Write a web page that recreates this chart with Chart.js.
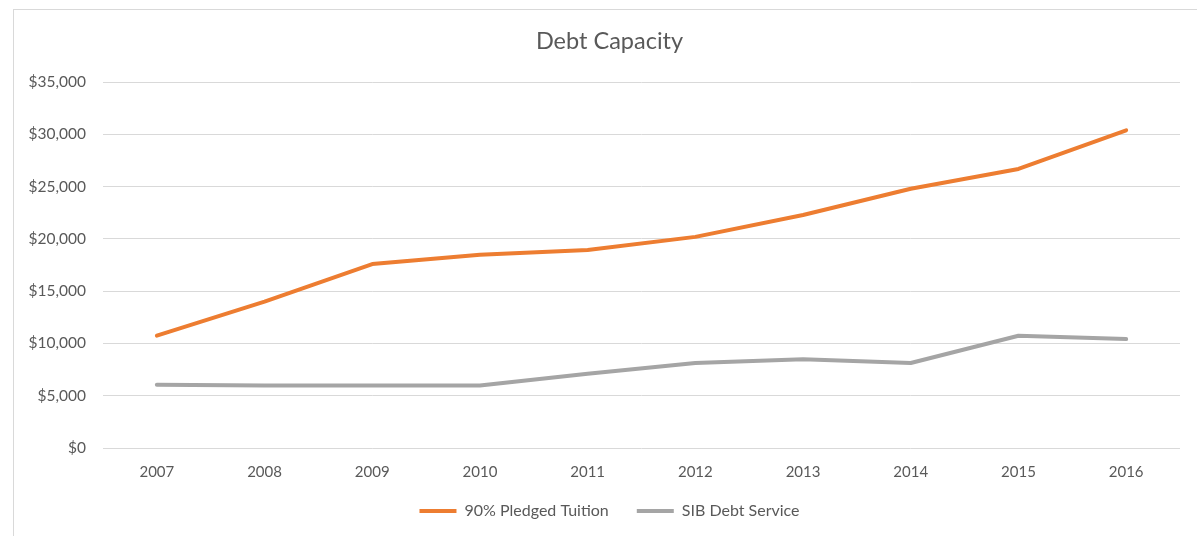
<!DOCTYPE html>
<html>
<head>
<meta charset="utf-8">
<script src="https://cdn.jsdelivr.net/npm/chart.js@4.4.1/dist/chart.umd.min.js"></script>
<style>
  html, body { margin: 0; padding: 0; background: #fff; }
  #wrap { position: relative; width: 1197px; height: 536px; overflow: hidden; }
  #frame { position: absolute; left: 13px; top: 9px; width: 1200px; height: 540px; border: 1px solid #D9D9D9; box-sizing: border-box; pointer-events: none; }
  canvas { position: absolute; left: 0; top: 0; }
</style>
</head>
<body>
<div id="wrap">
  <canvas id="c" width="1197" height="536"></canvas>
  <div id="frame"></div>
</div>
<script>
const categories = ['2007','2008','2009','2010','2011','2012','2013','2014','2015','2016'];
const pledgedTuition = [10750, 14000, 17600, 18500, 18950, 20200, 22300, 24800, 26700, 30400];
const sibDebtService = [6050, 5980, 5980, 5980, 7100, 8130, 8500, 8130, 10740, 10420];
const seriesNames = ['90% Pledged Tuition', 'SIB Debt Service'];
const yTicks = [0, 5000, 10000, 15000, 20000, 25000, 30000, 35000];

const textColor = '#595959';
const fontFamily = 'Lato, "Open Sans", sans-serif';

// Excel centres title and legend on the whole chart frame (slightly wider than the view);
// also let the x tick labels draw below the compact axis box without being clipped.
const layoutTweak = {
  id: 'layoutTweak',
  afterLayout(chart) {
    [chart.titleBlock, chart.legend].forEach(b => {
      if (b) { b.left += 13; b.right += 13; }
    });
    const x = chart.scales.x;
    x.bottom += 30;
    x.height += 30;
  }
};

new Chart(document.getElementById('c'), {
  type: 'line',
  data: {
    labels: categories,
    datasets: [
      { label: seriesNames[0], data: pledgedTuition, borderColor: '#ED7D31', backgroundColor: '#ED7D31', borderWidth: 4, pointRadius: 0, tension: 0, borderCapStyle: 'round', borderJoinStyle: 'round' },
      { label: seriesNames[1], data: sibDebtService, borderColor: '#A5A5A5', backgroundColor: '#A5A5A5', borderWidth: 4, pointRadius: 0, tension: 0, borderCapStyle: 'round', borderJoinStyle: 'round' }
    ]
  },
  plugins: [layoutTweak],
  options: {
    responsive: false,
    animation: false,
    devicePixelRatio: 1,
    layout: { padding: { left: 13, right: 17, top: 27, bottom: 7 } },
    plugins: {
      title: {
        display: true,
        text: 'Debt Capacity',
        color: textColor,
        font: { family: fontFamily, size: 23.5, weight: 'normal' },
        padding: { top: 0, bottom: 27 }
      },
      legend: {
        position: 'bottom',
        labels: {
          color: textColor,
          font: { family: fontFamily, size: 16 },
          usePointStyle: true,
          pointStyle: 'line',
          pointStyleWidth: 37,
          padding: 28
        }
      },
      tooltip: { enabled: false }
    },
    scales: {
      x: {
        offset: true,
        grid: { display: false, drawTicks: false },
        border: { display: false },
        ticks: { color: textColor, font: { family: fontFamily, size: 15 }, padding: 15 },
        afterFit: (s) => { s.height = 27; }
      },
      y: {
        min: 0, max: 35000,
        afterBuildTicks: (s) => { s.ticks = yTicks.map(v => ({ value: v })); },
        grid: { color: '#D9D9D9', lineWidth: 1, drawTicks: false },
        border: { display: false },
        ticks: {
          color: textColor,
          font: { family: fontFamily, size: 15.5 },
          padding: 17,
          callback: (v) => '$' + Number(v).toLocaleString('en-US')
        },
        afterFit: (s) => { s.width = 90; }
      }
    }
  }
});
</script>
</body>
</html>
